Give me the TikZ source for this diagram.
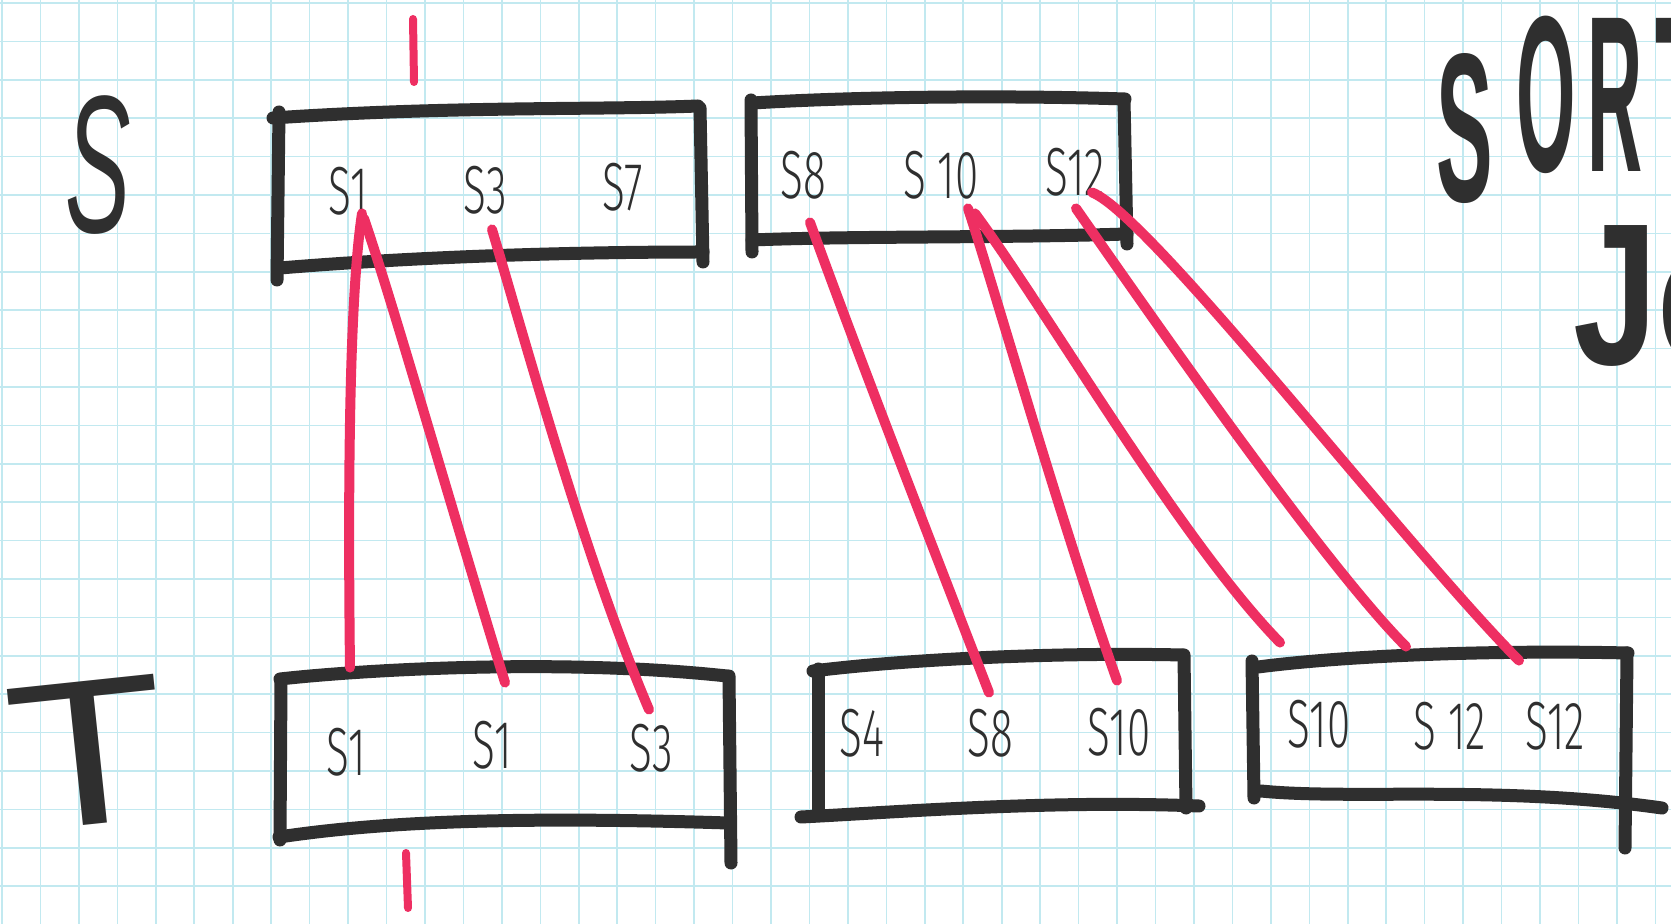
\documentclass[tikz,border=0pt]{standalone}
\usepackage{fontspec}
\setmainfont{Liberation Sans}
\newfontfamily\hand{Fira Sans Light}
\newfontfamily\marker{Liberation Sans Bold}
\usetikzlibrary{calc}
\definecolor{ink}{HTML}{2F2F2F}
\definecolor{pen}{HTML}{EE2F62}
\definecolor{gridc}{HTML}{C2E9F0}
\newcommand{\hw}[1]{\scalebox{0.62}[1]{#1}}
\begin{document}
\begin{tikzpicture}[x=0.5pt,y=-0.5pt,
  box/.style={draw=ink,line width=6.5pt,line cap=round,line join=round},
  link/.style={draw=pen,line width=5pt,line cap=round},
  tick/.style={draw=pen,line width=4pt,line cap=round},
  gridline/.style={draw=gridc,line width=0.8pt},
  lbl/.style={font={\hand\fontsize{34}{34}\selectfont},text=ink,inner sep=0pt},
  big/.style={text=ink,inner sep=0pt}]
\useasboundingbox (0,0) rectangle (1671,924);
\clip (0,0) rectangle (1671,924);
\fill[white] (0,0) rectangle (1671,924);
% graph paper
\foreach \i in {0,...,43} {\draw[gridline] ({2+38.45*\i},0) -- ++(0,924);}
\foreach \j in {0,...,24} {\draw[gridline] (0,{3+38.4*\j}) -- ++(1671,0);}

% big letters
\node[big,font={\itshape\fontsize{98}{98}\selectfont},anchor=base] (bigS) at (98,233) {\scalebox{0.5}[1]{S}};
\node[big,font={\fontsize{104}{104}\selectfont},anchor=base] (bigT) at (88,832) {\rotatebox{6}{\scalebox{1.25}[1]{T}}};
\node[big,font={\marker\fontsize{106}{106}\selectfont},anchor=base west] (sort) at (1436,172)
  {\raisebox{-15pt}{\scalebox{0.4}[1]{S}}\hspace{12pt}\scalebox{0.36}[1.05]{O\kern16pt R\kern17pt T}};
\node[big,font={\bfseries\fontsize{101}{101}\selectfont},anchor=base west] (join) at (1573,365) {\scalebox{0.75}[1]{Jo}};

% top boxes
\draw[box] (273,118) .. controls (450,106) and (600,110) .. (698,106);
\draw[box] (279,112) -- (277,280);
\draw[box] (280,268) .. controls (400,258) and (550,252) .. (703,252);
\draw[box] (700,108) -- (703,262);

\draw[box] (753,103) .. controls (850,97) and (1000,95) .. (1125,99);
\draw[box] (751,100) -- (752,252);
\draw[box] (752,240) .. controls (850,236) and (1000,238) .. (1127,234);
\draw[box] (1124,100) -- (1127,244);

% bottom boxes
\draw[box] (280,679) .. controls (360,670) and (560,658) .. (727,676);
\draw[box] (281,680) -- (280,840);
\draw[box] (279,837) .. controls (360,825) and (480,815) .. (728,823);
\draw[box] (729,676) -- (731,863);

\draw[box] (813,671) .. controls (900,660) and (1050,652) .. (1183,655);
\draw[box] (818,669) -- (818,812);
\draw[box] (801,817) .. controls (900,812) and (1050,800) .. (1199,806);
\draw[box] (1184,655) -- (1186,808);

\draw[box] (1252,661) -- (1254,798);
\draw[box] (1258,667) .. controls (1350,655) and (1500,650) .. (1628,653);
\draw[box] (1627,653) -- (1625,848);
\draw[box] (1261,791) .. controls (1350,800) and (1500,785) .. (1662,808);

% labels
\node[lbl] (a1) at (348,191) {\hw{S1}};
\node[lbl] (a2) at (485,190) {\hw{S3}};
\node[lbl] (a3) at (623,187) {\hw{S7}};
\node[lbl] (b1) at (803,175) {\hw{S8}};
\node[lbl] (b2) at (941,175) {\hw{S 10}};
\node[lbl] (b3) at (1075,172) {\hw{S12}};
\node[lbl] (c1) at (346,752) {\hw{S1}};
\node[lbl] (c2) at (492,745) {\hw{S1}};
\node[lbl] (c3) at (651,748) {\hw{S3}};
\node[lbl] (d1) at (862,733) {\hw{S4}};
\node[lbl] (d2) at (990,733) {\hw{S8}};
\node[lbl] (d3) at (1119,732) {\hw{S10}};
\node[lbl] (e1) at (1319,724) {\hw{S10}};
\node[lbl] (e2) at (1450,726) {\hw{S 12}};
\node[lbl] (e3) at (1555,726) {\hw{S12}};

% red ticks
\draw[tick] (413,19) -- (414,82);
\draw[tick] (406,853) -- (408,908);

% join links
\draw[link] ($(a1.south)+(14,-2)$) .. controls (352,280) and (347,420) .. ($(c1.north)+(4,-60)$);
\draw[link] ($(a1.south)+(16,3)$) .. controls (395,310) and (440,470) .. ($(c2.north)+(13,-38)$);
\draw[link] ($(a2.south)+(7,15)$) .. controls (522,330) and (585,560) .. ($(c3.north)+(-2,-14)$);
\draw[link] ($(b1.south)+(7,23)$) .. controls (860,360) and (930,540) .. ($(d2.north)+(-1,-16)$);
\draw[link] ($(b2.south)+(27,9)$) .. controls (995,290) and (1060,520) .. ($(d3.north)+(-2,-27)$);
\draw[link] ($(b2.south)+(34,14)$) .. controls (1050,315) and (1180,540) .. ($(e1.north)+(-39,-57)$);
\draw[link] ($(b3.south)+(1,12)$) .. controls (1140,300) and (1320,560) .. ($(e2.north)+(-44,-55)$);
\draw[link] ($(b3.south)+(17,-4)$) .. controls (1150,215) and (1400,540) .. ($(e3.north)+(-36,-41)$);
\end{tikzpicture}
\end{document}
